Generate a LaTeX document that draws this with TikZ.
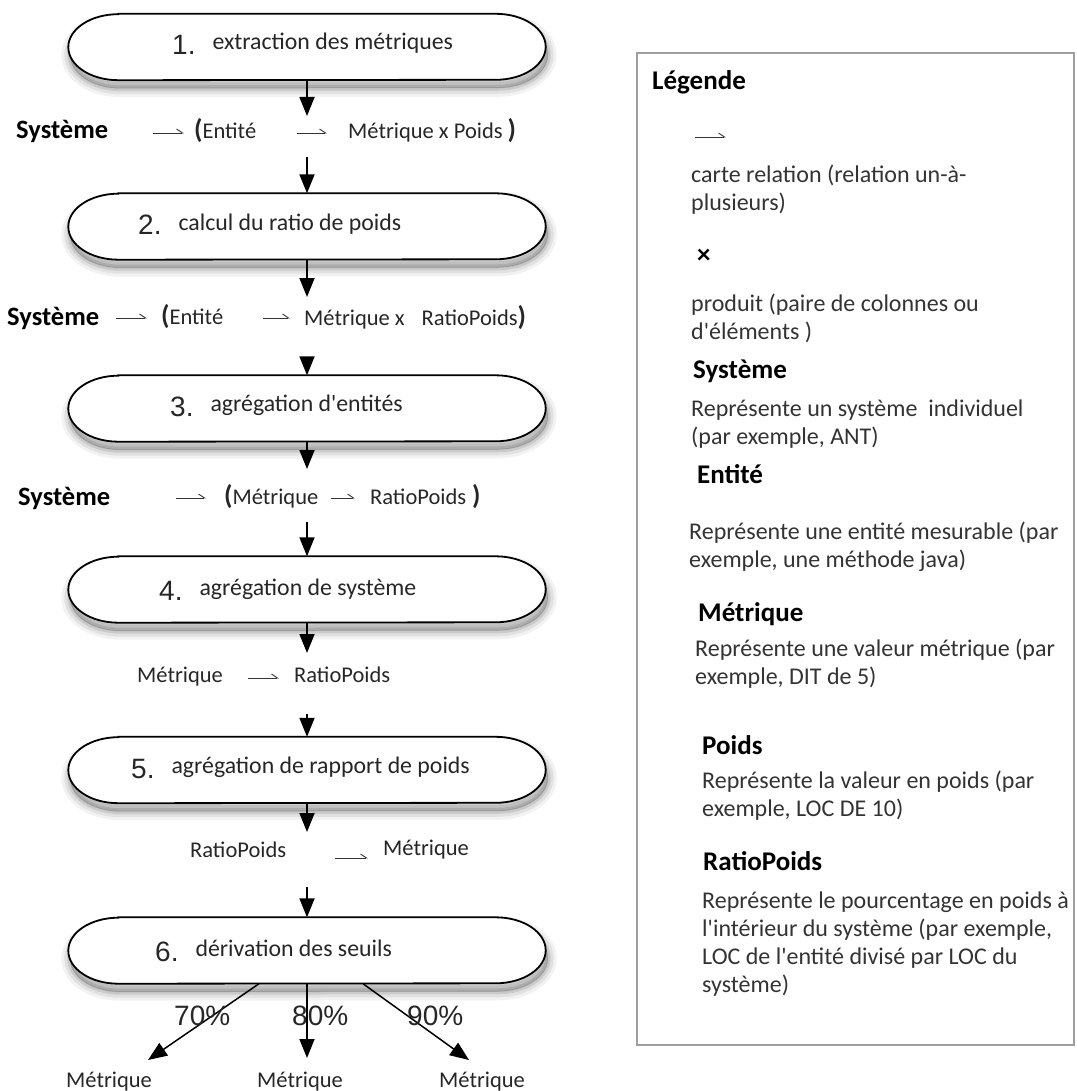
\documentclass[tikz,border=0pt]{standalone}
\usepackage{fontspec}
\setmainfont{Carlito}
\newfontfamily\arialf{Liberation Sans}
\usetikzlibrary{arrows.meta}

\tikzset{
  pillbox/.style={minimum width=477pt, minimum height=66pt, inner sep=0pt, draw=none},
  pilltext/.style={anchor=base west, inner sep=0pt, font=\fontsize{23.8}{28}\selectfont, text=black!85},
  rowtext/.style={anchor=base west, inner sep=0pt, font=\fontsize{22.5}{27}\selectfont, text=black!85},
  rowbold/.style={anchor=base west, inner sep=0pt, font=\bfseries\fontsize{26.5}{30}\selectfont, text=black},
  bigarrow/.style={line width=1.8pt, -{Triangle[length=19pt,width=15pt]}},
  harp/.style={line width=0.9pt, black!80, -{Straight Barb[harpoon,length=6pt,width=8pt]}},
  legbody/.style={anchor=base west, inner sep=0pt, font=\fontsize{24}{28}\selectfont, text=black!80},
  leghead/.style={anchor=base west, inner sep=0pt, font=\bfseries\fontsize{27}{30}\selectfont, text=black},
  pct/.style={anchor=base west, inner sep=0pt, font=\arialf\fontsize{28}{30}\selectfont, text=black!85},
}

\newcommand\pillp[4]{\path[#4] ([xshift=50pt+#2,yshift=#3]#1.north west) -- ([xshift=-50pt+#2,yshift=#3]#1.north east) arc[start angle=90,end angle=-90,x radius=50pt,y radius=33pt] -- ([xshift=50pt+#2,yshift=#3]#1.south west) arc[start angle=270,end angle=90,x radius=50pt,y radius=33pt] -- cycle;}
\newcommand\drawpill[1]{%
  \pillp{#1}{2pt}{-8pt}{draw=black, line width=18pt, opacity=0.05, line join=round}
  \pillp{#1}{2pt}{-8pt}{draw=black, line width=12pt, opacity=0.07, line join=round}
  \pillp{#1}{2pt}{-8pt}{draw=black, line width=6pt, opacity=0.10, line join=round}
  \pillp{#1}{2pt}{-8pt}{fill=black, draw=black, line width=1pt, opacity=0.15}
  \pillp{#1}{0pt}{0pt}{fill=white, draw=black, line width=1.8pt}}
\newcommand\num[1]{\raisebox{-5pt}{\arialf\fontsize{28}{30}\selectfont #1}\hspace{17pt}}
\newcommand\lns[1]{\begin{tabular}[t]{@{}l@{}}#1\end{tabular}}
\newcommand\bpar[1]{{\bfseries\fontsize{27}{30}\selectfont #1}}
\newcommand\ap{\textquotesingle}

\begin{document}
\begin{tikzpicture}[x=1pt,y=1pt]
\useasboundingbox (0,0) rectangle (1076,-1091);

% ---------- pills ----------
\node[pillbox] (p1) at (307,-47) {};
\node[pillbox] (p2) at (307,-226.5) {};
\node[pillbox] (p3) at (307,-408.5) {};
\node[pillbox] (p4) at (307,-589.5) {};
\node[pillbox] (p5) at (307,-770) {};
\node[pillbox] (p6) at (307,-950.5) {};
\drawpill{p1}\drawpill{p2}\drawpill{p3}\drawpill{p4}\drawpill{p5}\drawpill{p6}

\node[pilltext] (t1) at (172,-50) {\num{1.}extraction des métriques};
\node[pilltext] (t2) at (138,-230) {\num{2.}calcul du ratio de poids};
\node[pilltext] (t3) at (170,-411) {\num{3.}agrégation d\ap entités};
\node[pilltext] (t4) at (159,-595) {\num{4.}agrégation de système};
\node[pilltext] (t5) at (131,-773) {\num{5.}agrégation de rapport de poids};
\node[pilltext] (t6) at (155,-956) {\num{6.}dérivation des seuils};

% ---------- rows ----------
\node[rowbold] (r1a) at (16,-139) {Système};
\node[rowtext] (r1b) at (194,-139) {\bpar{(}Entité};
\node[rowtext] (r1c) at (348,-139) {Métrique x Poids\hspace{5pt}\bpar{)}};
\coordinate (h1a) at (153,-133); \coordinate (h1b) at (184,-133);
\coordinate (h1c) at (297,-133); \coordinate (h1d) at (327,-133);

\node[rowbold] (r2a) at (7,-325) {Système};
\node[rowtext] (r2b) at (161,-324) {\bpar{(}Entité};
\node[rowtext] (r2c) at (304,-325) {Métrique x\hspace{17pt}RatioPoids\bpar{)}};
\coordinate (h2a) at (116,-318); \coordinate (h2b) at (147,-318);
\coordinate (h2c) at (263,-318); \coordinate (h2d) at (290,-318);

\node[rowbold] (r3a) at (18,-505) {Système};
\node[rowtext] (r3b) at (224,-504) {\bpar{(}Métrique};
\node[rowtext] (r3c) at (370,-504) {RatioPoids\hspace{6pt}\bpar{)}};
\coordinate (h3a) at (176,-498); \coordinate (h3b) at (206,-498);
\coordinate (h3c) at (331,-498); \coordinate (h3d) at (355,-498);

\node[rowtext] (r4a) at (137,-682) {Métrique};
\node[rowtext] (r4b) at (294,-682) {RatioPoids};
\coordinate (h4a) at (248,-678); \coordinate (h4b) at (279,-678);

\node[rowtext] (r5a) at (190,-857) {RatioPoids};
\node[rowtext] (r5b) at (383,-855) {Métrique};
\coordinate (h5a) at (335,-858); \coordinate (h5b) at (368,-858);

\foreach \a/\b in {h1a/h1b,h1c/h1d,h2a/h2b,h2c/h2d,h3a/h3b,h3c/h3d,h4a/h4b,h5a/h5b}
  \draw[harp] (\a) -- (\b);

% ---------- main arrows ----------
\coordinate (c1) at (307,-116);
\coordinate (c2) at (307,-157);
\coordinate (c3) at (307,-297);
\coordinate (c4) at (307,-357);
\coordinate (c5) at (307,-469);
\coordinate (c6) at (307,-522);
\coordinate (c7) at (307,-653);
\coordinate (c8) at (307,-714);
\coordinate (c9) at (307,-832);
\coordinate (c10) at (307,-887);
\draw[bigarrow] (p1.south) -- (c1);
\draw[bigarrow] (c2) -- (p2.north);
\draw[bigarrow] (p2.south) -- (c3);
\draw[bigarrow] (c4) -- (p3.north);
\draw[bigarrow] (p3.south) -- (c5);
\draw[bigarrow] (c6) -- (p4.north);
\draw[bigarrow] (p4.south) -- (c7);
\draw[bigarrow] (c8) -- (p5.north);
\draw[bigarrow] (p5.south) -- (c9);
\draw[bigarrow] (c10) -- (p6.north);

% ---------- thresholds ----------
\node[rowtext] (m1) at (66,-1087) {Métrique};
\node[rowtext] (m2) at (257,-1087) {Métrique};
\node[rowtext] (m3) at (439,-1087) {Métrique};
\coordinate (f1) at (148,-1060);
\coordinate (f2) at (307,-1058);
\coordinate (f3) at (469,-1060);
\draw[bigarrow, line width=1.5pt] ([xshift=-48pt]p6.south) -- (f1);
\draw[bigarrow, line width=1.5pt] (p6.south) -- (f2);
\draw[bigarrow, line width=1.5pt] ([xshift=56pt]p6.south) -- (f3);
\node[pct] (q1) at (174,-1025) {70\%};
\node[pct] (q2) at (292,-1025) {80\%};
\node[pct] (q3) at (407,-1025) {90\%};

% ---------- legend ----------
\node[draw=black!38, line width=1.6pt, minimum width=437pt, minimum height=992pt, inner sep=0pt] (legbox) at (855.5,-549) {};
\node[leghead] (lg) at (652,-90) {Légende};
\coordinate (lh1) at (695,-137); \coordinate (lh2) at (726,-137);
\draw[harp] (lh1) -- (lh2);
\node[legbody] (l1) at (691,-183) {\lns{carte relation (relation un-à-\\plusieurs)}};
\node[leghead] (lx) at (697,-263) {×};
\node[legbody] (l2) at (691,-311) {\lns{produit (paire de colonnes ou\\d\ap éléments )}};
\node[leghead] (l3h) at (693,-378) {Système};
\node[legbody] (l3) at (691,-416) {\lns{Représente un système\ \ individuel\\(par exemple, ANT)}};
\node[leghead] (l4h) at (697,-483) {Entité};
\node[legbody] (l4) at (689,-539) {\lns{Représente une entité mesurable (par\\exemple, une méthode java)}};
\node[leghead] (l5h) at (698,-621) {Métrique};
\node[legbody] (l5) at (695,-656) {\lns{Représente une valeur métrique (par\\exemple, DIT de 5)}};
\node[leghead] (l6h) at (702,-754) {Poids};
\node[legbody] (l6) at (702,-788) {\lns{Représente la valeur en poids (par\\exemple, LOC DE 10)}};
\node[leghead] (l7h) at (703,-870) {RatioPoids};
\node[legbody] (l7) at (702,-908) {\lns{Représente le pourcentage en poids à\\l\ap intérieur du système (par exemple,\\LOC de l\ap entité divisé par LOC du\\système)}};
\end{tikzpicture}
\end{document}
